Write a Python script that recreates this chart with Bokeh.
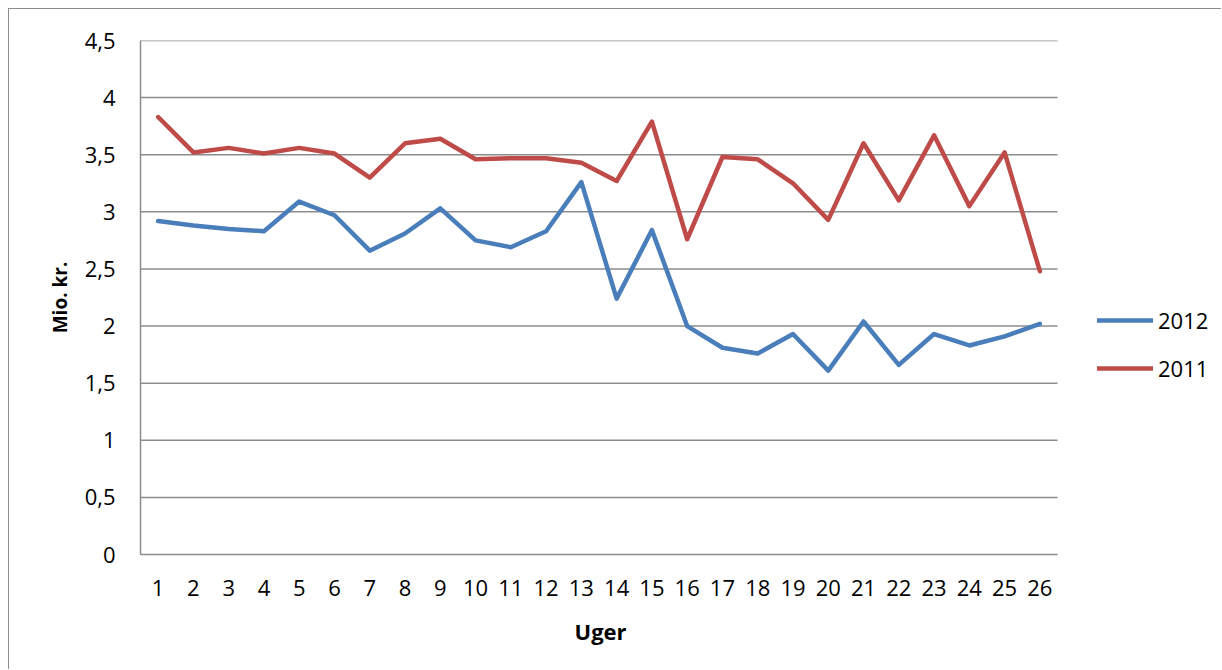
from bokeh.plotting import figure
from bokeh.models import Range1d, FixedTicker, Legend, LegendItem, ColumnDataSource, Title
from bokeh.embed import file_html
from bokeh.resources import INLINE

weeks = list(range(1, 27))
week_labels = [str(w) for w in weeks]
y2012 = [2.92, 2.88, 2.85, 2.83, 3.09, 2.97, 2.66, 2.81, 3.03, 2.75, 2.69, 2.83, 3.26,
         2.24, 2.84, 2.00, 1.81, 1.76, 1.93, 1.61, 2.04, 1.66, 1.93, 1.83, 1.91, 2.02]
y2011 = [3.83, 3.52, 3.56, 3.51, 3.56, 3.51, 3.30, 3.60, 3.64, 3.46, 3.47, 3.47, 3.43,
         3.27, 3.79, 2.76, 3.48, 3.46, 3.25, 2.93, 3.60, 3.10, 3.67, 3.05, 3.52, 2.48]
y_ticks = [0, 0.5, 1, 1.5, 2, 2.5, 3, 3.5, 4, 4.5]
y_tick_labels = ["0", "0,5", "1", "1,5", "2", "2,5", "3", "3,5", "4", "4,5"]
series_names = ["2012", "2011"]
series_colors = ["#4a7ebb", "#be4b48"]
x_title = "Uger"
y_title = "Mio. kr."

FONT = "Open Sans"
GRID = "#8c8c8c"

# layout: plot area of the categories is 917px wide; the frame extends to the right
# so that the legend (outside the plot area) can be drawn inside the frame.
W, H = 1213, 661
LEFT, TOP, RIGHT, BOTTOM = 131, 31, 4, 116
frame_w = W - LEFT - RIGHT
plot_w = 917
x0 = weeks[0] - 0.5
x1 = weeks[-1] + 0.5
x_end = x0 + (x1 - x0) * frame_w / plot_w

p = figure(width=W, height=H, output_backend="svg", toolbar_location=None,
           x_range=Range1d(x0, x_end), y_range=Range1d(y_ticks[0], y_ticks[-1]),
           min_border_left=LEFT, min_border_top=TOP, min_border_right=RIGHT,
           min_border_bottom=BOTTOM)
p.styles = {"margin-left": "8px", "margin-top": "8px",
            "border-style": "solid", "border-color": GRID,
            "border-width": "1px 0px 0px 1px"}
p.outline_line_color = None
p.background_fill_color = "white"
p.border_fill_color = "white"
p.xgrid.grid_line_color = None
p.ygrid.grid_line_color = None

# horizontal gridlines limited to the plot area
gy = y_ticks[1:]
p.segment(x0=[x0] * len(gy), x1=[x1] * len(gy), y0=gy, y1=gy,
          line_color=GRID, line_width=1.5)

src = ColumnDataSource(dict(x=weeks, a=y2012, b=y2011))
r1 = p.line("x", "a", source=src, line_color=series_colors[0], line_width=4.5,
            line_join="round", line_cap="round")
r2 = p.line("x", "b", source=src, line_color=series_colors[1], line_width=4.5,
            line_join="round", line_cap="round")

# axes
p.xaxis.ticker = FixedTicker(ticks=weeks)
p.xaxis.major_label_overrides = {w: l for w, l in zip(weeks, week_labels)}
p.xaxis.bounds = (x0, x1)
p.yaxis.ticker = FixedTicker(ticks=y_ticks)
p.yaxis.major_label_overrides = {t: l for t, l in zip(y_ticks, y_tick_labels)}

for ax in (p.xaxis, p.yaxis):
    ax.axis_line_color = GRID
    ax.axis_line_width = 1.5
    ax.major_tick_line_color = None
    ax.minor_tick_line_color = None
    ax.major_tick_out = 0
    ax.major_tick_in = 0
    ax.major_label_text_font = FONT
    ax.major_label_text_font_size = "22px"
    ax.major_label_text_color = "black"
    ax.axis_label_text_font = FONT
    ax.axis_label_text_font_style = "bold"
    ax.axis_label_text_color = "black"

p.xaxis.major_label_standoff = 25
p.yaxis.axis_label = y_title
p.yaxis.axis_label_text_font_size = "19px"
p.yaxis.major_label_standoff = 25
p.yaxis.axis_label_standoff = 9

# x-axis title, centred under the category area (not under the whole frame)
xt = Title(text=x_title, align="left", offset=434, standoff=30,
           text_font=FONT, text_font_size="22px", text_font_style="bold",
           text_color="black")
p.add_layout(xt, "below")

legend = Legend(items=[LegendItem(label=series_names[0], renderers=[r1]),
                       LegendItem(label=series_names[1], renderers=[r2])],
                location=(957, 171), padding=0, margin=0, spacing=18,
                glyph_width=56, glyph_height=20, label_height=20, label_standoff=5,
                border_line_color=None, background_fill_alpha=0,
                label_text_font=FONT, label_text_font_size="22px", label_text_color="black")
p.add_layout(legend, "center")

open("out.html", "w").write(file_html(p, INLINE))
